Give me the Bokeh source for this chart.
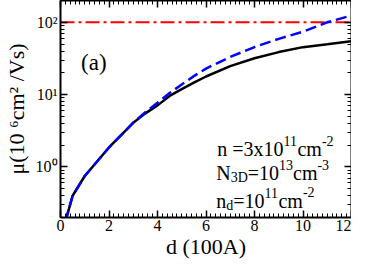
from bokeh.plotting import figure
from bokeh.models import Range1d, LogAxis, LinearAxis, FixedTicker, SingleIntervalTicker, Label
from bokeh.embed import file_html
from bokeh.resources import INLINE

# ---- data ----
d_vals = [0.2, 0.5, 1.0, 1.5, 2.0, 2.5, 3.0, 3.5, 4.0, 4.5, 5.0, 5.5, 6.0, 7.0, 8.0, 9.0, 10.0, 11.0, 12.0]
mu_solid = [0.175, 0.40, 0.75, 1.18, 1.86, 2.75, 4.07, 5.5, 7.1, 9.6, 11.9, 14.6, 17.8, 24.8, 31.8, 38.7, 45.3, 49.8, 54.8]
mu_dashed = [0.175, 0.40, 0.75, 1.18, 1.86, 2.75, 4.1, 5.7, 7.7, 10.5, 13.8, 18.0, 22.9, 33.2, 45.4, 59.0, 74.1, 100.0, 124.0]
d_flat = [0.0, 12.0]
mu_flat = [100.0, 100.0]

x_major = 2
y_major = [1, 10, 100]
y_minor = [0.2, 0.3, 0.4, 0.5, 0.6, 0.7, 0.8, 0.9, 2, 3, 4, 5, 6, 7, 8, 9,
           20, 30, 40, 50, 60, 70, 80, 90, 200]
y_labels = {1: "10⁰", 10: "10¹", 100: "10²"}

FONT = "Liberation Serif"
AXFONT = "'Liberation Serif', serif"

p = figure(width=351, height=261, y_axis_type="log",
           x_range=Range1d(0, 12), y_range=Range1d(0.2, 200),
           output_backend="svg", toolbar_location=None,
           min_border_left=0, min_border_right=0, min_border_top=0, min_border_bottom=0,
           background_fill_color="white", border_fill_color="white")
p.outline_line_color = None
p.xgrid.visible = False
p.ygrid.visible = False

p.line(d_flat, mu_flat, line_color="#ff0000", line_width=2, line_dash="14 4 3 4")
p.line(d_vals, mu_solid, line_color="black", line_width=2.5)
p.line(d_vals, mu_dashed, line_color="#0000ff", line_width=2.5, line_dash="11 5")

xt = SingleIntervalTicker(interval=x_major, num_minor_ticks=10)
yt = FixedTicker(ticks=y_major, minor_ticks=y_minor)


def style(ax, labels=True):
    ax.axis_line_width = 2
    ax.axis_line_color = "black"
    ax.major_tick_in = 7
    ax.major_tick_out = 0
    ax.minor_tick_in = 4
    ax.minor_tick_out = 0
    ax.major_tick_line_width = 1.5
    ax.minor_tick_line_width = 1
    ax.major_label_text_font = AXFONT
    ax.major_label_text_color = "black"
    ax.axis_label_text_font = AXFONT
    ax.axis_label_text_font_style = "normal"
    ax.axis_label_text_color = "black"
    if not labels:
        ax.major_label_text_font_size = "1px"
        ax.major_label_text_alpha = 0
        ax.major_label_standoff = 0


xa = p.xaxis[0]
xa.ticker = xt
style(xa)
xa.major_label_text_font_size = "16px"
xa.major_label_standoff = 2
xa.axis_label = "d (100A)"
xa.axis_label_text_font_size = "22px"
xa.axis_label_standoff = 0

ya = p.yaxis[0]
ya.ticker = yt
style(ya)
ya.major_label_overrides = y_labels
ya.major_label_text_font_size = "16px"
ya.major_label_standoff = 3
ya.axis_label = "μ(10 ⁶cm² /Vs)"
ya.axis_label_text_font_size = "22px"
ya.axis_label_standoff = 4

top = LinearAxis(ticker=SingleIntervalTicker(interval=x_major, num_minor_ticks=10))
style(top, labels=False)
p.add_layout(top, "above")
right = LogAxis(ticker=FixedTicker(ticks=y_major, minor_ticks=y_minor))
style(right, labels=False)
p.add_layout(right, "right")

# ---- annotations ----
W = {' ': 250, '(': 333, ')': 333, '=': 564, '-': 333, 'x': 500, 'n': 500, 'c': 444,
     'm': 778, 'd': 500, 'N': 722, 'D': 722, 'a': 444}


def tw(s, size):
    return sum(W.get(ch, 500) for ch in s) * size / 1000.0


MAIN, SCRIPT = 20, 14


def rich(x, y, pieces):
    off = 0.0
    for txt, kind in pieces:
        size = MAIN if kind == "n" else SCRIPT
        yo = 0 if kind == "n" else (8 if kind == "sup" else -5)
        p.add_layout(Label(x=x, y=y, x_offset=off, y_offset=yo, text=txt,
                           text_font=FONT, text_font_size=f"{size}px",
                           text_baseline="alphabetic", text_align="left",
                           text_color="black"))
        off += tw(txt, size)


rich(6.46, 1.77, [("n =3x10", "n"), ("11", "sup"), ("cm", "n"), ("-2", "sup")])
rich(6.42, 0.835, [("N", "n"), ("3D", "sub"), ("=10", "n"), ("13", "sup"), ("cm", "n"), ("-3", "sup")])
rich(6.42, 0.34, [("n", "n"), ("d", "sub"), ("=10", "n"), ("11", "sup"), ("cm", "n"), (" -2", "sup")])

p.add_layout(Label(x=0.85, y=27.7, text="(a)", text_font=FONT, text_font_size="23px",
                   text_baseline="alphabetic", text_color="black"))

open("out.html", "w").write(file_html(p, INLINE))
